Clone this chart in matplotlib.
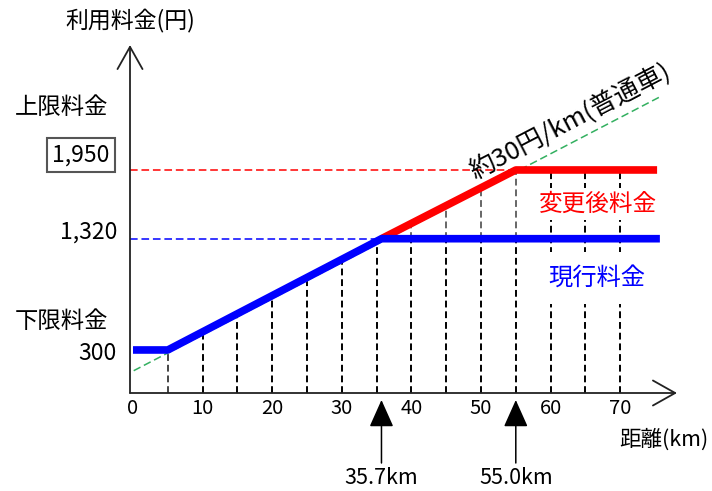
import numpy as np
import matplotlib
matplotlib.use("Agg")
import matplotlib.pyplot as plt

plt.rcParams['font.family'] = ['Noto Sans CJK JP', 'DejaVu Sans']

# ---- data ----
current_km = [0, 5, 35.7, 75.7]
current_fee = [300, 300, 1320, 1320]
new_km = [35.7, 55.0, 75.3]
new_fee = [1320, 1950, 1950]
rate_km = [0.1, 75.7]
rate_fee = [110, 2620]
grid_km = [5, 10, 15, 20, 25, 30, 35, 40, 45, 50, 55, 60, 65, 70]
xtick_vals = [0, 10, 20, 30, 40, 50, 60, 70]
xtick_labels = ["0", "10", "20", "30", "40", "50", "60", "70"]
fee_lower, fee_mid, fee_upper = 300, 1320, 1950
break_km = [35.7, 55.0]
break_labels = ["35.7km", "55.0km"]

# pixel <-> data mapping (full-figure axes)
W, H = 712, 491
def kx(px):
    return (px - 133) / 6.96
def yy(py):
    return (382.7 - py) / 0.10909

fig = plt.figure(figsize=(W / 100, H / 100), dpi=100)
ax = fig.add_axes([0, 0, 1, 1])
ax.set_xlim(kx(0), kx(W))
ax.set_ylim(yy(H), yy(0))
ax.axis('off')

base = yy(393)
x0 = kx(130)
dash = (0, (3.5, 2))

# vertical dashed lines up to the curve
for g in grid_km:
    top_cur = np.interp(g, current_km, current_fee)
    if g > new_km[0]:
        top_new = np.interp(g, new_km, new_fee)
    else:
        top_new = top_cur
    if g in (60, 65, 70):
        ax.plot([g, g], [base, top_new], color='black', lw=1.4, ls=dash, zorder=2)
    elif top_new > top_cur:
        ax.plot([g, g], [base, top_cur], color='black', lw=1.4, ls=dash, zorder=2)
        ax.plot([g, g], [top_cur, top_new], color='#666666', lw=1.4, ls=dash, zorder=2)
    else:
        c = '#444444' if g == 5 else 'black'
        ax.plot([g, g], [base, top_cur], color=c, lw=1.4, ls=dash, zorder=2)

# reference horizontal dashed lines
ax.plot([x0, break_km[1]], [fee_upper, fee_upper], color='#ff0000', lw=1.1, ls=(0, (5, 2.5)), zorder=2)
ax.plot([x0, break_km[0]], [fee_mid, fee_mid], color='#0000ff', lw=1.1, ls=(0, (5, 2.5)), zorder=2)

# rate line
ax.plot(rate_km, rate_fee, color='#33b060', lw=1.1, ls=(0, (5, 2.5)), zorder=3)

# fee lines
ax.plot(new_km, new_fee, color='#ff0000', lw=5.5, solid_capstyle='butt', zorder=5)
ax.plot(current_km, current_fee, color='#0000ff', lw=5.5, solid_capstyle='butt', zorder=6)

# axes with open arrow heads
ax.annotate('', xy=(x0, yy(45)), xytext=(x0, base),
            arrowprops=dict(arrowstyle='->,head_length=0.8,head_width=0.45', lw=1.3,
                            color='#222222', shrinkA=0, shrinkB=0, mutation_scale=20), zorder=4)
ax.annotate('', xy=(kx(677), base), xytext=(x0, base),
            arrowprops=dict(arrowstyle='->,head_length=0.8,head_width=0.45', lw=1.3,
                            color='#222222', shrinkA=0, shrinkB=0, mutation_scale=20), zorder=4)

# tick labels
for v, lab in zip(xtick_vals, xtick_labels):
    ax.text(v, yy(408), lab, ha='center', va='center', fontsize=14.5)

# break arrows
for b, lab in zip(break_km, break_labels):
    ax.annotate('', xy=(b, yy(400)), xytext=(b, yy(463)),
                arrowprops=dict(arrowstyle='-|>,head_length=0.85,head_width=0.38', lw=1.1,
                                color='black', shrinkA=0, shrinkB=0, mutation_scale=20))
    ax.text(b, yy(478), lab, ha='center', va='center', fontsize=15.5)

# labels
ax.text(kx(130), yy(20), '利用料金(円)', ha='center', va='center', fontsize=16.5)
ax.text(kx(15), yy(108), '上限料金', ha='left', va='center', fontsize=16.8)
ax.text(kx(81), yy(155), '1,950', ha='center', va='center', fontsize=16.5,
        bbox=dict(boxstyle='square,pad=0.22', facecolor='white', edgecolor='#555555', lw=1.5))
ax.text(kx(117), yy(232), '1,320', ha='right', va='center', fontsize=16.5)
ax.text(kx(15), yy(322), '下限料金', ha='left', va='center', fontsize=16.8)
ax.text(kx(117), yy(353), '300', ha='right', va='center', fontsize=16.5)
ax.text(kx(708), yy(440), '距離(km)', ha='right', va='center', fontsize=15.5)
ax.text(kx(570), yy(122), '約30円/km(普通車)', ha='center', va='center', fontsize=18.5,
        rotation=27.5, rotation_mode='anchor', zorder=7)
ax.text(kx(598), yy(204), '変更後料金', ha='center', va='center', fontsize=17, color='#ff0000',
        bbox=dict(boxstyle='square,pad=0.2', facecolor='white', edgecolor='none'), zorder=7)
ax.text(kx(597), yy(278), '現行料金', ha='center', va='center', fontsize=17.5, color='#0000ff',
        bbox=dict(boxstyle='square,pad=0.55', facecolor='white', edgecolor='none'), zorder=7)

fig.savefig('out.png', dpi=100)
